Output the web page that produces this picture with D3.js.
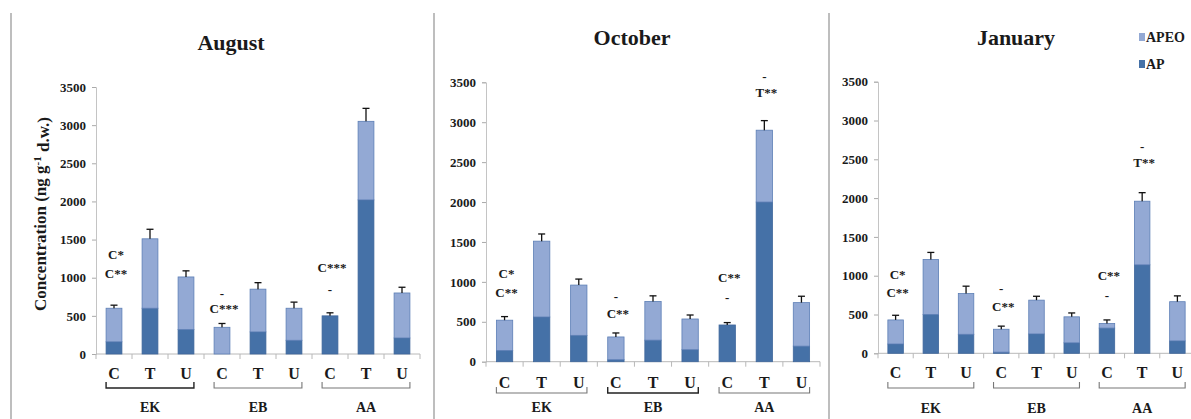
<!DOCTYPE html>
<html>
<head>
<meta charset="utf-8">
<script src="https://cdn.jsdelivr.net/npm/d3@7"></script>
<style>
  body { margin: 0; background: #fff; }
  text { font-family: "Liberation Serif", "Times New Roman", serif; font-weight: bold; fill: #1a1a1a; }
</style>
</head>
<body>
<script>
  // categories
  const sites = ["EK", "EB", "AA"];
  const treatments = ["C", "T", "U"];
  const months = ["August", "October", "January"];
  const series = ["APEO", "AP"];

  // AP and APEO values (ng g-1 d.w.), order: EK C,T,U / EB C,T,U / AA C,T,U
  const apAug = [160, 600, 320, 0, 290, 180, 500, 2020, 210];
  const apeoAug = [440, 910, 690, 350, 560, 420, 0, 1030, 590];
  const errAug = [40, 125, 80, 50, 85, 80, 40, 170, 75];

  const apOct = [140, 560, 330, 25, 270, 150, 460, 2000, 195];
  const apeoOct = [380, 950, 630, 285, 485, 385, 0, 900, 545];
  const errOct = [45, 90, 75, 50, 70, 50, 30, 120, 80];

  const apJan = [120, 500, 245, 15, 250, 135, 325, 1140, 160];
  const apeoJan = [310, 710, 525, 295, 435, 335, 60, 820, 505];
  const errJan = [60, 90, 95, 40, 50, 50, 45, 110, 75];

  // significance labels: [bar index, text, value level]
  const notesAug = [[0, "C*", 1300], [0, "C**", 1060], [3, "-", 800], [3, "C***", 600], [6, "C***", 1130], [6, "-", 850]];
  const notesOct = [[0, "C*", 1110], [0, "C**", 870], [3, "-", 820], [3, "C**", 610], [6, "C**", 1060], [6, "-", 800], [7, "-", 3570], [7, "T**", 3370]];
  const notesJan = [[0, "C*", 1010], [0, "C**", 780], [3, "-", 830], [3, "C**", 610], [6, "C**", 1000], [6, "-", 750], [7, "-", 2670], [7, "T**", 2455]];

  const yTicks = [0, 500, 1000, 1500, 2000, 2500, 3000, 3500];

  const colAP = "#4571a7";
  const colAPEO = "#93a9d4";

  const width = 1191, height = 419;
  const svg = d3.select("body").append("svg")
    .attr("width", width)
    .attr("height", height);

  // panel frames (separators)
  [11, 434, 829].forEach(px => {
    svg.append("line")
      .attr("x1", px).attr("x2", px)
      .attr("y1", 13).attr("y2", height)
      .attr("stroke", "#a8a8a8").attr("stroke-width", 1.5);
  });

  const panels = [
    { ap: apAug, apeo: apeoAug, err: errAug, notes: notesAug, x0: 96, x1: 420, y0: 354, y1: 87, titleX: 231, titleY: 42, catY: 373, brY: 388, grpY: 407 },
    { ap: apOct, apeo: apeoOct, err: errOct, notes: notesOct, x0: 486, x1: 820, y0: 361.7, y1: 82.3, titleX: 632, titleY: 37, catY: 382, brY: 393, grpY: 407 },
    { ap: apJan, apeo: apeoJan, err: errJan, notes: notesJan, x0: 878, x1: 1195, y0: 353.3, y1: 81.7, titleX: 1016, titleY: 37, catY: 372, brY: 388, grpY: 408 }
  ];

  const cats = [];
  sites.forEach(s => treatments.forEach(t => cats.push(s + "-" + t)));

  panels.forEach((p, pi) => {
    const g = svg.append("g");

    const x = d3.scaleBand()
      .domain(cats)
      .range([p.x0, p.x1])
      .paddingInner(0.56)
      .paddingOuter(0.28);

    const y = d3.scaleLinear()
      .domain([0, 3500])
      .range([p.y0, p.y1]);

    // y axis
    const yAxis = g.append("g")
      .attr("transform", `translate(${p.x0},0)`)
      .call(d3.axisLeft(y).tickValues(yTicks).tickFormat(d3.format("d")).tickSize(4).tickPadding(6));
    yAxis.select(".domain").attr("stroke", "#c4c4c4");
    yAxis.selectAll(".tick line").attr("stroke", "#aaa");
    yAxis.selectAll(".tick text")
      .style("font-family", '"Liberation Serif", "Times New Roman", serif')
      .style("font-weight", "bold")
      .style("font-size", "13px")
      .attr("fill", "#222");

    // x axis baseline with ticks between categories
    g.append("line")
      .attr("x1", p.x0).attr("x2", p.x1)
      .attr("y1", y(0)).attr("y2", y(0))
      .attr("stroke", "#b8b8b8");
    d3.range(cats.length + 1).forEach(i => {
      const tx = p.x0 + i * x.step();
      g.append("line")
        .attr("x1", tx).attr("x2", tx)
        .attr("y1", y(0)).attr("y2", y(0) + 5)
        .attr("stroke", "#b8b8b8");
    });

    // stacked bars
    const rows = cats.map((c, i) => ({ key: c, AP: p.ap[i], APEO: p.apeo[i], err: p.err[i] }));
    const stacked = d3.stack().keys(["AP", "APEO"])(rows);

    g.selectAll(".layer")
      .data(stacked)
      .enter().append("g")
      .attr("fill", d => d.key === "AP" ? colAP : colAPEO)
      .attr("stroke", d => d.key === "AP" ? "#3f679c" : "#5d7fb6")
      .attr("stroke-width", 0.8)
      .selectAll("rect")
      .data(d => d.filter(s => s[1] - s[0] > 0))
      .enter().append("rect")
      .attr("x", d => x(d.data.key))
      .attr("width", x.bandwidth())
      .attr("y", d => y(d[1]))
      .attr("height", d => y(d[0]) - y(d[1]));

    // error bars (upward only)
    const eb = g.selectAll(".err")
      .data(rows)
      .enter().append("g");
    eb.append("line")
      .attr("x1", d => x(d.key) + x.bandwidth() / 2)
      .attr("x2", d => x(d.key) + x.bandwidth() / 2)
      .attr("y1", d => y(d.AP + d.APEO))
      .attr("y2", d => y(d.AP + d.APEO + d.err))
      .attr("stroke", "#111").attr("stroke-width", 1.3);
    eb.append("line")
      .attr("x1", d => x(d.key) + x.bandwidth() / 2 - 3.5)
      .attr("x2", d => x(d.key) + x.bandwidth() / 2 + 3.5)
      .attr("y1", d => y(d.AP + d.APEO + d.err))
      .attr("y2", d => y(d.AP + d.APEO + d.err))
      .attr("stroke", "#111").attr("stroke-width", 1.3);

    // significance notes
    g.selectAll(".note")
      .data(p.notes)
      .enter().append("text")
      .attr("x", d => x(cats[d[0]]) + x.bandwidth() / 2 + (d[1] === "-" ? 0 : 2))
      .attr("y", d => y(d[2]))
      .attr("dy", "0.35em")
      .attr("text-anchor", "middle")
      .style("font-size", "13px")
      .attr("fill", "#333")
      .text(d => d[1]);

    // treatment labels
    g.selectAll(".cat")
      .data(cats)
      .enter().append("text")
      .attr("x", d => x(d) + x.bandwidth() / 2)
      .attr("y", p.catY)
      .attr("dy", "0.35em")
      .attr("text-anchor", "middle")
      .style("font-size", "16px")
      .text(d => d.split("-")[1]);

    // site brackets and labels
    sites.forEach((s, si) => {
      const a = x(s + "-C");
      const b = x(s + "-U") + x.bandwidth();
      const dark = (pi === 0 && si === 0) || (pi === 1 && si === 1);
      g.append("path")
        .attr("d", `M${a},${p.brY - 6}V${p.brY}H${b}V${p.brY - 6}`)
        .attr("fill", "none")
        .attr("stroke", dark ? "#222" : "#777")
        .attr("stroke-width", dark ? 1.4 : 1.1);
      g.append("text")
        .attr("x", x(s + "-T") + x.bandwidth() / 2)
        .attr("y", p.grpY)
        .attr("dy", "0.35em")
        .attr("text-anchor", "middle")
        .style("font-size", "14px")
        .text(s);
    });

    // title
    g.append("text")
      .attr("x", p.titleX)
      .attr("y", p.titleY)
      .attr("dy", "0.35em")
      .attr("text-anchor", "middle")
      .style("font-size", "22px")
      .attr("fill", "#111")
      .text(months[pi]);
  });

  // y axis title (first panel only)
  const yt = svg.append("text")
    .attr("transform", "translate(40,214) rotate(-90)")
    .attr("text-anchor", "middle")
    .attr("dy", "0.35em")
    .style("font-size", "17px")
    .attr("fill", "#111");
  yt.append("tspan").text("Concentration (ng  g");
  yt.append("tspan").attr("dy", "-0.45em").style("font-size", "11px").text("-1");
  yt.append("tspan").attr("dy", "0.45em").text(" d.w.)");

  // legend
  const legend = svg.append("g").attr("transform", "translate(1139,37)");
  series.forEach((s, i) => {
    const lg = legend.append("g").attr("transform", `translate(0,${i * 27})`);
    lg.append("rect")
      .attr("x", 0).attr("y", -4)
      .attr("width", 6).attr("height", 8)
      .attr("fill", s === "AP" ? colAP : colAPEO);
    lg.append("text")
      .attr("x", 7).attr("y", 0)
      .attr("dy", "0.35em")
      .style("font-size", "14px")
      .text(s);
  });
</script>
</body>
</html>
